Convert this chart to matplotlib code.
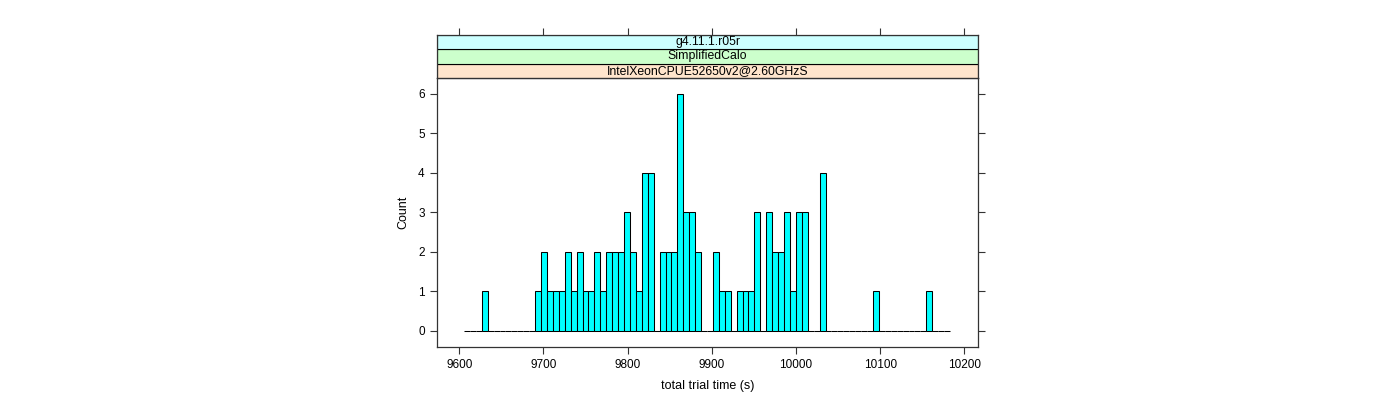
import numpy as np
import matplotlib
matplotlib.use("Agg")
import matplotlib.pyplot as plt
from matplotlib.patches import Rectangle

plt.rcParams['font.family'] = ['Liberation Sans', 'DejaVu Sans']

# ---- data ----
hist_start = 9605.6
hist_end = 10183.0
counts = [0, 0, 0, 1, 0, 0, 0, 0, 0, 0, 0, 0,
          1, 2, 1, 1, 1, 2, 1, 2, 1, 1, 2, 1, 2, 2, 2, 3, 2, 1, 4, 4,
          0, 2, 2, 2, 6, 3, 3, 2,
          0, 0, 2, 1, 1, 0, 1, 1, 1, 3, 0, 3, 2, 2, 3, 1, 3, 3,
          0, 0, 4, 0, 0, 0, 0, 0, 0, 0, 0, 1, 0, 0, 0, 0, 0, 0, 0, 0, 1,
          0, 0, 0]
x_ticks = [9600, 9700, 9800, 9900, 10000, 10100, 10200]
y_ticks = [0, 1, 2, 3, 4, 5, 6]
strip_labels = ["IntelXeonCPUE52650v2@2.60GHzS", "SimplifiedCalo", "g4.11.1.r05r"]
strip_colors = ["#ffe5cc", "#ccffcc", "#ccffff"]
x_label = "total trial time (s)"
y_label = "Count"

edges = np.linspace(hist_start, hist_end, len(counts) + 1)

W, H = 1400, 400
fig = plt.figure(figsize=(14, 4), dpi=100)

left, right = 437.3, 977.7
ptop, pbot = 78.0, 346.7
strip_top = 34.7

ax = fig.add_axes([left / W, 1 - pbot / H, (right - left) / W, (pbot - ptop) / H])
ax.bar(edges[:-1], counts, width=np.diff(edges), align='edge',
       color='#00ffff', edgecolor='black', linewidth=0.75)
ax.set_xlim(9573.9, 10215.9)
ax.set_ylim(-0.4, 6.4)

axis_col = '#333333'
for s in ax.spines.values():
    s.set_color(axis_col)
    s.set_linewidth(0.9)

ax.set_xticks(x_ticks)
ax.set_yticks(y_ticks)
ax.tick_params(axis='both', direction='out', length=5, width=0.8, color=axis_col,
               labelsize=8.5, pad=4)
ax.tick_params(axis='y', right=True, labelright=False)
ax.tick_params(axis='x', top=False)
ax.set_xlabel(x_label, fontsize=9, labelpad=6)
ax.set_ylabel(y_label, fontsize=9, labelpad=6)

# strips
sax = fig.add_axes([left / W, 1 - ptop / H, (right - left) / W, (ptop - strip_top) / H])
sax.set_xlim(ax.get_xlim())
sax.set_ylim(0, len(strip_labels))
for i, (lab, col) in enumerate(zip(strip_labels, strip_colors)):
    sax.add_patch(Rectangle((9573.9, i), 10215.9 - 9573.9, 1, facecolor=col,
                            edgecolor='black', linewidth=0.8))
    sax.text((9573.9 + 10215.9) / 2, i + 0.5, lab, ha='center', va='center', fontsize=8.8)
for s in sax.spines.values():
    s.set_color(axis_col)
    s.set_linewidth(0.9)
sax.set_xticks(x_ticks)
sax.set_yticks([])
sax.tick_params(axis='x', direction='out', length=5, width=0.8, color=axis_col,
                top=True, bottom=False, labeltop=False, labelbottom=False)

fig.savefig("out.png", dpi=100, facecolor='white')
